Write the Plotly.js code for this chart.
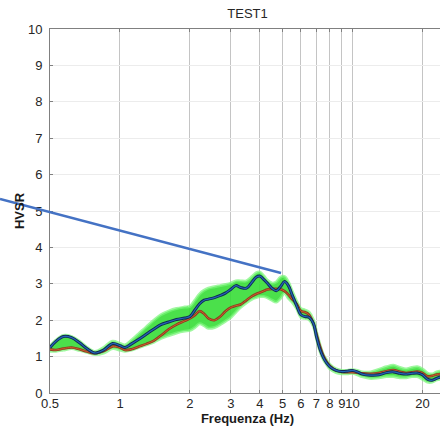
<!DOCTYPE html>
<html>
<head>
<meta charset="utf-8">
<script src="https://cdn.plot.ly/plotly-3.0.1.min.js"></script>
<style>
html,body{margin:0;padding:0;overflow:hidden;background:#fff;}
#chart{width:446px;height:426px;}
</style>
</head>
<body>
<div id="chart"></div>
<script>
// Frequencies (Hz)
const freq = [0.5,0.53,0.57,0.62,0.67,0.72,0.78,0.85,0.93,1.0,1.05,1.12,1.2,1.3,1.4,1.5,1.62,1.75,1.9,2.0,2.1,2.2,2.3,2.4,2.55,2.7,2.85,3.0,3.15,3.3,3.5,3.7,3.85,4.0,4.15,4.3,4.5,4.7,4.9,5.1,5.3,5.5,5.75,6.0,6.25,6.5,6.8,7.0,7.25,7.5,7.75,8.0,8.5,9.0,9.5,10,10.5,11,12,13,14,15,16,17,18,19,20,21,22,23,24,25];
// Mean HVSR (blue)
const hvsrMean = [1.25,1.42,1.55,1.52,1.38,1.22,1.10,1.18,1.36,1.30,1.25,1.35,1.47,1.62,1.76,1.88,1.95,2.02,2.06,2.10,2.28,2.45,2.55,2.58,2.62,2.68,2.75,2.85,2.95,2.90,2.88,3.05,3.18,3.21,3.12,3.02,2.88,2.81,2.92,3.06,2.95,2.70,2.40,2.15,2.10,2.08,1.90,1.55,1.20,0.97,0.82,0.72,0.62,0.59,0.60,0.62,0.58,0.52,0.49,0.50,0.56,0.58,0.54,0.52,0.54,0.55,0.50,0.38,0.35,0.40,0.44,0.42];
// Second curve (red)
const hvsrRed = [1.20,1.18,1.22,1.25,1.20,1.14,1.09,1.15,1.28,1.25,1.18,1.20,1.27,1.35,1.44,1.58,1.75,1.88,1.98,2.05,2.14,2.25,2.18,2.05,2.00,2.10,2.25,2.35,2.40,2.43,2.55,2.66,2.72,2.76,2.80,2.84,2.86,2.86,2.85,2.80,2.70,2.58,2.45,2.25,2.22,2.15,1.90,1.62,1.28,1.02,0.85,0.74,0.62,0.58,0.57,0.57,0.56,0.54,0.53,0.55,0.60,0.63,0.58,0.55,0.57,0.59,0.55,0.46,0.47,0.51,0.52,0.50];
// Spread band (green)
const bandUpper = [1.28,1.45,1.58,1.55,1.42,1.26,1.14,1.25,1.42,1.36,1.32,1.45,1.62,1.82,2.00,2.15,2.25,2.32,2.36,2.38,2.55,2.72,2.82,2.88,2.92,2.95,2.98,3.02,3.08,3.08,3.08,3.20,3.30,3.32,3.22,3.10,3.02,3.05,3.18,3.20,3.05,2.80,2.52,2.32,2.28,2.22,2.00,1.68,1.32,1.05,0.90,0.78,0.66,0.62,0.62,0.64,0.62,0.58,0.58,0.65,0.72,0.76,0.70,0.66,0.70,0.72,0.66,0.55,0.52,0.58,0.60,0.58];
const bandLower = [1.15,1.15,1.18,1.22,1.17,1.12,1.06,1.10,1.22,1.18,1.15,1.18,1.25,1.32,1.40,1.50,1.58,1.65,1.70,1.72,1.80,1.90,1.85,1.78,1.80,1.88,1.98,2.08,2.22,2.35,2.48,2.58,2.62,2.65,2.65,2.62,2.55,2.50,2.60,2.75,2.60,2.50,2.32,2.08,2.05,2.02,1.82,1.50,1.15,0.92,0.78,0.66,0.56,0.53,0.53,0.54,0.50,0.45,0.40,0.42,0.45,0.45,0.42,0.42,0.45,0.45,0.38,0.30,0.30,0.36,0.38,0.36];
// Axis ticks
const xTickVals = [0.5,1,2,3,4,5,6,7,8,9,10,20];
const xTickText = ['0.5','1','2','3','4','5','6','7','8','9','10','20'];
const yTickVals = [0,1,2,3,4,5,6,7,8,9,10];

const bandX = freq.concat(freq.slice().reverse());
const bandY = bandUpper.concat(bandLower.slice().reverse());

const traces = [
  {x: bandX, y: bandY, type:'scatter', mode:'lines', fill:'toself',
   fillcolor:'rgba(50,220,50,0.88)', line:{color:'rgba(120,245,120,0.7)', width:3, shape:'spline'}, hoverinfo:'skip', showlegend:false},
  {x: freq, y: hvsrRed, type:'scatter', mode:'lines', line:{color:'#8f3a22', width:2.6, shape:'spline'}, showlegend:false},
  {x: freq, y: hvsrRed, type:'scatter', mode:'lines', line:{color:'#c9602a', width:1, shape:'spline'}, showlegend:false},
  {x: freq, y: hvsrMean, type:'scatter', mode:'lines', line:{color:'#102a50', width:3, shape:'spline'}, showlegend:false},
  {x: freq, y: hvsrMean, type:'scatter', mode:'lines', line:{color:'#2463b8', width:1.2, shape:'spline'}, showlegend:false}
];

const font = {family:'Liberation Sans, Arial, sans-serif', size:13, color:'#262626'};
const layout = {
  width:446, height:426,
  margin:{l:50, r:1, t:29, b:33, pad:0},
  paper_bgcolor:'#fff', plot_bgcolor:'#fff',
  font: font,
  title:{text:'TEST1', font:{family:font.family, size:13, color:'#262626'}, x:0.5, xref:'paper', y:1, yref:'container', yanchor:'top', pad:{t:9}},
  xaxis:{type:'log', range:[Math.log10(0.5), Math.log10(25)], tickvals:xTickVals, ticktext:xTickText, tickangle:0,
    showgrid:true, gridcolor:'#c4c4c4', gridwidth:1, showline:true, mirror:'ticks', linecolor:'#808080', linewidth:1,
    ticks:'inside', ticklen:3, tickcolor:'#808080', zeroline:false, tickfont:{size:13, color:'#262626'},
    ticklabelstandoff:-2,
    title:{text:'<b>Frequenza (Hz)</b>', font:{size:13, color:'#1a1a1a'}, standoff:0}},
  yaxis:{range:[0,10], tickvals:yTickVals, showgrid:true, gridcolor:'#ececec', gridwidth:1,
    showline:true, mirror:'ticks', linecolor:'#808080', linewidth:1, ticks:'inside', ticklen:3, tickcolor:'#808080',
    zeroline:false, tickfont:{size:13, color:'#262626'}, ticklabelstandoff:4,
    title:{text:'<b>HVSR</b>', font:{size:13, color:'#1a1a1a'}, standoff:0}},
  shapes:[{type:'line', xref:'paper', yref:'paper', x0:-0.1266, y0:0.533, x1:0.5848, y1:0.3297,
    line:{color:'#4472C4', width:2.5}, layer:'above'}]
};
Plotly.newPlot('chart', traces, layout, {displayModeBar:false, staticPlot:true});
</script>
</body>
</html>
